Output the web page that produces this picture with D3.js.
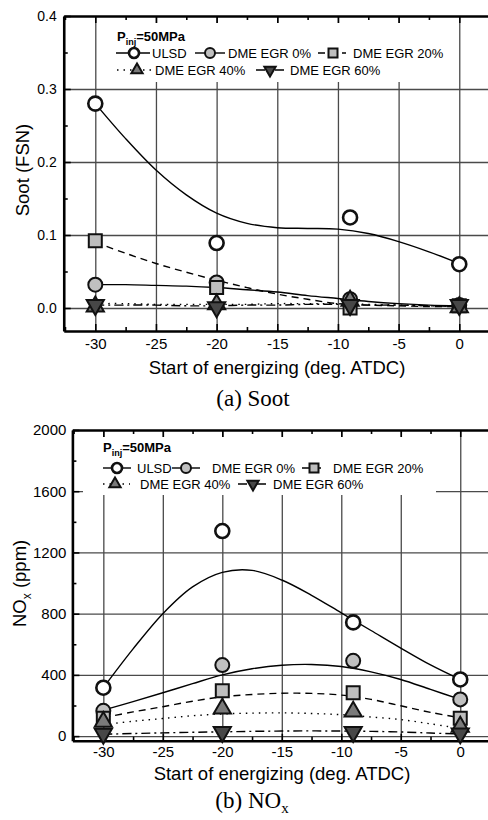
<!DOCTYPE html>
<html>
<head>
<meta charset="utf-8">
<script src="https://cdn.jsdelivr.net/npm/d3@7"></script>
<style>
  body { margin: 0; background: #fff; }
  svg { display: block; font-family: "Liberation Sans", Arial, sans-serif; }
</style>
</head>
<body>
<svg id="chart" width="488" height="820"></svg>
<script>
// start of energizing where points were measured
const soe = [-30, -20, -9, 0];
// x positions of the fitted trend curves
const fitSoe = [-30, -27.5, -25, -22.5, -20, -17.5, -15, -12.5, -10, -7.5, -5, -2.5, 0];
const xTicks = [-30, -25, -20, -15, -10, -5, 0];
const xMinor = [-32.5, -27.5, -22.5, -17.5, -12.5, -7.5, -2.5];
const seriesNames = ["ULSD", "DME EGR 0%", "DME EGR 20%", "DME EGR 40%", "DME EGR 60%"];

// (a) soot
const sootTicks = [0.0, 0.1, 0.2, 0.3, 0.4];
const sootMinor = [0.05, 0.15, 0.25, 0.35];
const sootULSD  = [0.280, 0.089, 0.124, 0.060];
const sootEGR0  = [0.032, 0.035, 0.012, 0.004];
const sootEGR20 = [0.092, 0.028, 0.000, 0.003];
const sootEGR40 = [0.002, 0.005, 0.010, 0.001];
const sootEGR60 = [0.004, 0.001, 0.004, 0.004];
const sootFitULSD  = [0.280, 0.232, 0.189, 0.155, 0.130, 0.116, 0.110, 0.109, 0.108, 0.102, 0.091, 0.077, 0.061];
const sootFitEGR0  = [0.032, 0.032, 0.031, 0.030, 0.028, 0.025, 0.022, 0.017, 0.013, 0.009, 0.006, 0.004, 0.003];
const sootFitEGR20 = [0.090, 0.075, 0.061, 0.049, 0.038, 0.028, 0.019, 0.012, 0.006, 0.004, 0.003, 0.002, 0.002];
const sootFitEGR40 = [0.006, 0.006, 0.005, 0.005, 0.005, 0.005, 0.006, 0.006, 0.006, 0.005, 0.004, 0.003, 0.002];
const sootFitEGR60 = [0.004, 0.004, 0.004, 0.003, 0.003, 0.004, 0.004, 0.005, 0.005, 0.004, 0.004, 0.003, 0.002];

// (b) NOx
const noxTicks = [0, 400, 800, 1200, 1600, 2000];
const noxMinor = [200, 600, 1000, 1400, 1800];
const noxULSD  = [316, 1340, 743, 370];
const noxEGR0  = [165, 464, 492, 240];
const noxEGR20 = [116, 296, 283, 116];
const noxEGR40 = [93, 180, 160, 61];
const noxEGR60 = [15, 27, 27, 18];
const noxFitULSD  = [316, 570, 800, 975, 1070, 1083, 1020, 920, 805, 690, 575, 465, 370];
const noxFitEGR0  = [170, 225, 283, 343, 400, 440, 463, 468, 455, 420, 370, 305, 240];
const noxFitEGR20 = [120, 158, 192, 228, 257, 272, 280, 279, 268, 240, 198, 155, 120];
const noxFitEGR40 = [75, 97, 115, 133, 145, 150, 152, 148, 140, 125, 108, 80, 50];
const noxFitEGR60 = [12, 17, 21, 25, 28, 31, 33, 34, 33, 31, 27, 20, 14];

const styles = [
  { fill: "#ffffff", dash: null,        shape: "circle" },
  { fill: "#c0c0c0", dash: null,        shape: "circle" },
  { fill: "#bebebe", dash: "7,5",       shape: "square" },
  { fill: "#7a7a7a", dash: "1.5,5",     shape: "up" },
  { fill: "#474747", dash: "9,4,2,4",   shape: "down" }
];

const svg = d3.select("#chart");
// plain hyphen for negatives, like the original
const plain = d => String(d);

function marker(shape, big) {
  if (shape === "circle") return d3.symbol(d3.symbolCircle, Math.PI * (big ? 49 : 25))();
  if (shape === "square") return d3.symbol(d3.symbolSquare, big ? 169 : 81)();
  return d3.symbol(d3.symbolTriangle, big ? 128 : 55)();
}

function drawMarker(g, s, cx, cy, big, ulsd) {
  g.append("path")
    .attr("d", marker(s.shape, big))
    .attr("transform", "translate(" + cx + "," + cy + ")" + (s.shape === "down" ? " rotate(180)" : ""))
    .attr("fill", s.fill)
    .attr("stroke", "#111")
    .attr("stroke-width", ulsd ? 2.6 : 2);
}

function panel(p) {
  const g = svg.append("g");
  const x = d3.scaleLinear().domain([-32.6, 2.5]).range(p.xRange);
  const y = d3.scaleLinear().domain(p.yDomain).range([p.bottom, p.top]);
  const left = p.xRange[0], right = p.xRange[1];

  // grid
  g.append("g")
    .attr("transform", "translate(0," + p.bottom + ")")
    .call(d3.axisBottom(x).tickValues(xTicks).tickSize(-(p.bottom - p.top)).tickFormat(""))
    .call(a => a.select(".domain").remove());
  g.append("g")
    .attr("transform", "translate(" + left + ",0)")
    .call(d3.axisLeft(y).tickValues(p.grid).tickSize(-(right - left)).tickFormat(""))
    .call(a => a.select(".domain").remove());
  g.selectAll(".tick line").attr("stroke", "#4a4a4a").attr("stroke-width", 1.3);

  // legend background hides grid
  g.append("rect")
    .attr("x", p.legBox[0]).attr("y", p.legBox[1])
    .attr("width", p.legBox[2]).attr("height", p.legBox[3])
    .attr("fill", "#fff");

  // frame axes
  const ax = g.append("g");
  ax.append("g").attr("transform", "translate(0," + p.bottom + ")")
    .call(d3.axisBottom(x).tickValues(xTicks).tickSize(-7).tickSizeOuter(0).tickPadding(p.xPad).tickFormat(plain))
    .call(a => a.selectAll("text").attr("font-size", "15px"));
  ax.append("g").attr("transform", "translate(0," + p.bottom + ")")
    .call(d3.axisBottom(x).tickValues(xMinor).tickSize(-4).tickFormat(""))
    .call(a => a.select(".domain").remove());
  ax.append("g").attr("transform", "translate(0," + p.top + ")")
    .call(d3.axisTop(x).tickValues(xTicks).tickSize(-7).tickSizeOuter(0).tickFormat(""));
  ax.append("g").attr("transform", "translate(0," + p.top + ")")
    .call(d3.axisTop(x).tickValues(xMinor).tickSize(-4).tickFormat(""))
    .call(a => a.select(".domain").remove());
  ax.append("g").attr("transform", "translate(" + left + ",0)")
    .call(d3.axisLeft(y).tickValues(p.ticks).tickSize(-7).tickSizeOuter(0).tickPadding(p.yPad).tickFormat(p.fmt))
    .call(a => a.selectAll("text").attr("font-size", p.yFont));
  ax.append("g").attr("transform", "translate(" + left + ",0)")
    .call(d3.axisLeft(y).tickValues(p.minor).tickSize(-4).tickFormat(""))
    .call(a => a.select(".domain").remove());
  ax.selectAll(".domain").attr("stroke", "#000").attr("stroke-width", 2.6);
  ax.selectAll(".tick line").attr("stroke", "#000").attr("stroke-width", 1.6);
  ax.selectAll("text").attr("fill", "#000").attr("font-family", "Liberation Sans, Arial, sans-serif");

  // fitted curves
  const line = d3.line().curve(d3.curveCatmullRom).x((d, i) => x(fitSoe[i])).y(d => y(d));
  p.fits.forEach((f, k) => {
    g.append("path").attr("d", line(f))
      .attr("fill", "none").attr("stroke", "#000").attr("stroke-width", 1.4)
      .attr("stroke-dasharray", styles[k].dash);
  });

  // measured points
  p.data.forEach((vals, k) => {
    vals.forEach((v, i) => drawMarker(g, styles[k], x(soe[i]), y(v), true, k === 0));
  });

  // axis titles
  g.append("text").attr("x", p.xTitle[0]).attr("y", p.xTitle[1])
    .attr("text-anchor", "middle").attr("font-size", "18.5px")
    .text("Start of energizing (deg. ATDC)");
  p.yTitle(g);

  // caption
  const cap = g.append("text").attr("x", p.cap[0]).attr("y", p.cap[1])
    .attr("text-anchor", "middle").attr("font-size", "23px")
    .attr("font-family", "Liberation Serif, Times New Roman, serif");
  p.capText(cap);

  // legend
  const L = p.leg;
  const t = g.append("text").attr("x", L.title[0]).attr("y", L.title[1])
    .attr("font-size", "13px").attr("font-weight", "bold");
  t.append("tspan").text("P");
  t.append("tspan").attr("font-size", "9px").attr("dy", 4).text("inj");
  t.append("tspan").attr("dy", -4).text("=50MPa");
  L.items.forEach((it, k) => {
    const cy = it[4];
    g.append("line").attr("x1", it[0]).attr("x2", it[2]).attr("y1", cy).attr("y2", cy)
      .attr("stroke", "#000").attr("stroke-width", 1.4).attr("stroke-dasharray", styles[k].dash);
    drawMarker(g, styles[k], it[1], cy, false, k === 0);
    g.append("text").attr("x", it[3]).attr("y", cy + 5).attr("font-size", "13px").text(seriesNames[k]);
  });
}

panel({
  xRange: [63.75, 489.6], top: 16, bottom: 331, yDomain: [-0.0315, 0.4],
  ticks: sootTicks, minor: sootMinor, grid: [0, 0.1, 0.2, 0.3], fmt: d3.format(".1f"),
  xPad: 7, yPad: 7, yFont: "14px",
  legBox: [110, 23, 338, 59],
  fits: [sootFitULSD, sootFitEGR0, sootFitEGR20, sootFitEGR40, sootFitEGR60],
  data: [sootULSD, sootEGR0, sootEGR20, sootEGR40, sootEGR60],
  xTitle: [277, 374],
  yTitle: g => g.append("text").attr("transform", "translate(29,170) rotate(-90)")
    .attr("text-anchor", "middle").attr("font-size", "18.5px").text("Soot (FSN)"),
  cap: [253, 406],
  capText: c => c.text("(a) Soot"),
  leg: {
    title: [117, 40.5],
    items: [[116, 134, 150, 152, 53], [195, 210, 225, 228, 53], [318, 333, 346, 353, 53],
            [117, 137, 152, 155, 70], [256, 270, 285, 290, 70]]
  }
});

panel({
  xRange: [72.4, 490], top: 430, bottom: 740.7, yDomain: [-30, 2000],
  ticks: noxTicks, minor: noxMinor, grid: [0, 400, 800, 1200, 1600], fmt: plain,
  xPad: 5.5, yPad: 6, yFont: "15px",
  legBox: [83, 437, 353, 58],
  fits: [noxFitULSD, noxFitEGR0, noxFitEGR20, noxFitEGR40, noxFitEGR60],
  data: [noxULSD, noxEGR0, noxEGR20, noxEGR40, noxEGR60],
  xTitle: [282, 780],
  yTitle: g => {
    const t = g.append("text").attr("transform", "translate(25.5,627) rotate(-90)")
      .attr("font-size", "18.5px");
    t.append("tspan").text("NO");
    t.append("tspan").attr("font-size", "12px").attr("dy", 5).text("x");
    t.append("tspan").attr("dy", -5).text(" (ppm)");
  },
  cap: [252, 808],
  capText: c => {
    c.append("tspan").text("(b) NO");
    c.append("tspan").attr("font-size", "15px").attr("dy", 5).text("x");
  },
  leg: {
    title: [103, 451.5],
    items: [[103, 117, 131, 137, 468], [172, 186, 200, 212, 468], [302, 314, 325, 333, 468],
            [103, 115, 130, 140, 484], [238, 253, 267, 273, 484]]
  }
});
</script>
</body>
</html>
